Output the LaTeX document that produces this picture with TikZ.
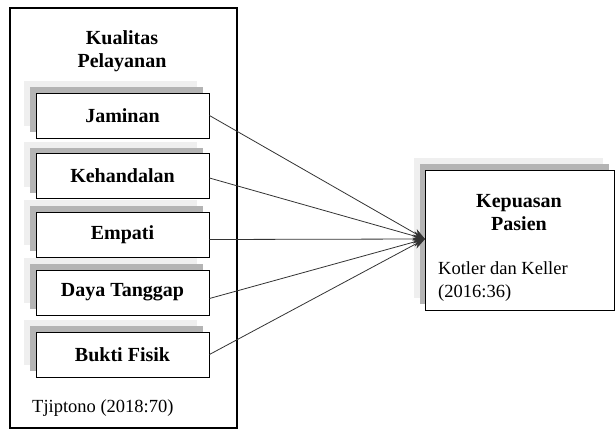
\documentclass[tikz,border=0pt]{standalone}
\usepackage{fontspec}
\setmainfont{Liberation Serif}
\usetikzlibrary{shadows,arrows.meta}
\definecolor{shlight}{HTML}{EFEFEF}
\definecolor{shdark}{HTML}{B4B4B4}
\definecolor{linec}{HTML}{333333}
\begin{document}
\begin{tikzpicture}[x=1pt,y=-1pt,
  bfont/.style={font=\fontsize{20}{23}\selectfont\bfseries},
  nfont/.style={font=\fontsize{18.5}{23}\selectfont},
  dimbox/.style={draw=black, line width=0.9pt, fill=white, bfont,
    minimum width=173pt, minimum height=45pt, inner sep=0pt,
    general shadow={fill=shlight, shadow xshift=-12pt, shadow yshift=12pt},
    general shadow={fill=shdark, shadow xshift=-6pt, shadow yshift=6pt}},
  conn/.style={draw=linec, line width=0.8pt, -{Stealth[length=12pt,width=9pt]}}
]
\useasboundingbox (0,0) rectangle (616,439);
\node[draw=black, line width=1.6pt, minimum width=227pt, minimum height=420pt, inner sep=0pt] (outer) at (123.5,218) {};
\node[bfont, align=center] (title) at (122,51) {Kualitas\\Pelayanan};
\node[dimbox] (jam) at (122.5,115.5) {Jaminan};
\node[dimbox] (keh) at (122.5,176) {Kehandalan};
\node[dimbox] (emp) at (122.5,234.5) {Empati};
\node[dimbox] (day) at (122.5,292.5) {Daya Tanggap};
\node[dimbox] (buk) at (122.5,354.5) {Bukti Fisik};
\node[nfont, anchor=west, inner sep=0pt] (tjip) at (32,408) {Tjiptono (2018:70)};
\node[draw=black, line width=0.9pt, fill=white, minimum width=189pt, minimum height=140pt, inner sep=0pt,
    general shadow={fill=shlight, shadow xshift=-12pt, shadow yshift=12pt},
    general shadow={fill=shdark, shadow xshift=-6pt, shadow yshift=6pt}] (kp) at (520,240) {};
\node[bfont, align=center] (kptitle) at (519,213) {Kepuasan\\Pasien};
\node[nfont, align=left, anchor=west, inner sep=0pt] (kotler) at (438,281.5) {Kotler dan Keller\\(2016:36)};
\coordinate (tip) at (425,239);
\draw[conn] (jam.east) -- (tip);
\draw[conn] ([yshift=-2pt]keh.east) -- (tip);
\draw[conn] ([yshift=-5pt]emp.east) -- (tip);
\draw[conn] ([yshift=-6pt]day.east) -- (tip);
\draw[conn] (buk.east) -- (tip);
\end{tikzpicture}
\end{document}
